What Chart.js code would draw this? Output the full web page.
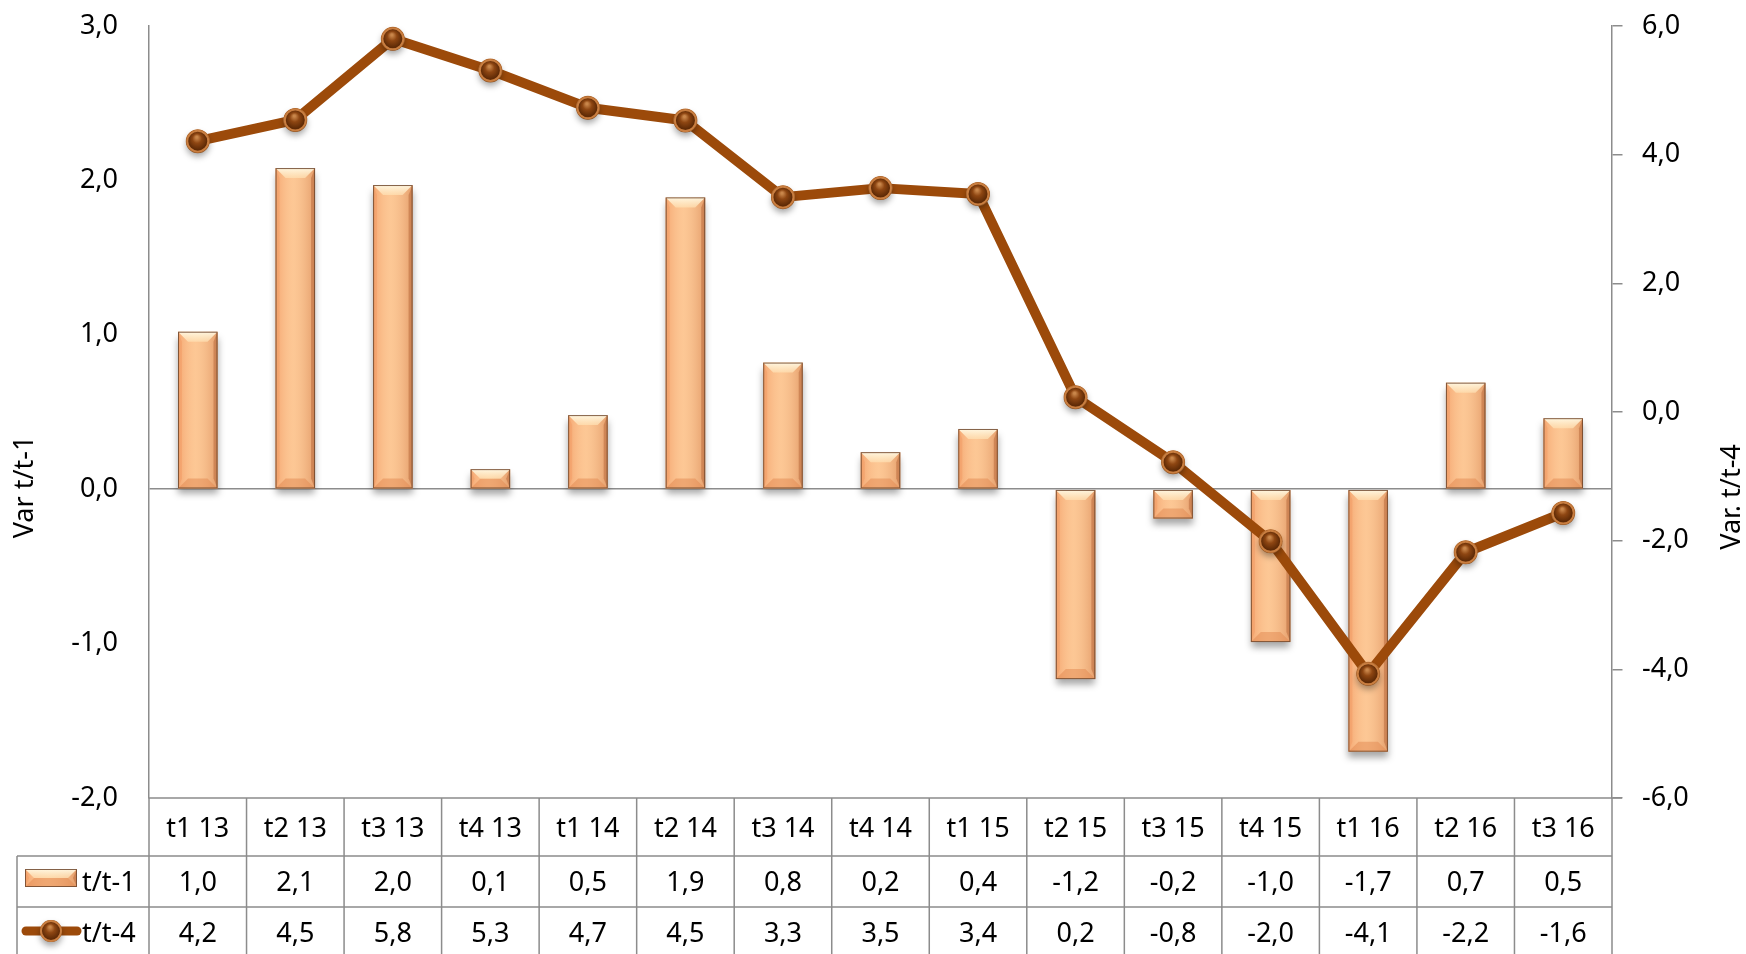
<!DOCTYPE html>
<html><head><meta charset="utf-8">
<script src="https://cdn.jsdelivr.net/npm/chart.js@4.4.1/dist/chart.umd.min.js"></script>
<style>html,body{margin:0;padding:0;background:#fff;}#wrap{width:1746px;height:954px;position:relative;}</style>
</head><body><div id="wrap"><canvas id="c"></canvas></div>
<script>
const categories = ['t1 13','t2 13','t3 13','t4 13','t1 14','t2 14','t3 14','t4 14','t1 15','t2 15','t3 15','t4 15','t1 16','t2 16','t3 16'];
const seriesQoQ = [1.02, 2.08, 1.97, 0.13, 0.48, 1.89, 0.82, 0.24, 0.39, -1.23, -0.19, -0.99, -1.70, 0.69, 0.46];
const seriesYoY = [4.21, 4.54, 5.80, 5.31, 4.73, 4.53, 3.34, 3.48, 3.39, 0.23, -0.78, -2.01, -4.07, -2.18, -1.57];
const seriesNames = ['t/t-1', 't/t-4'];
const axisTitles = ['Var t/t-1', 'Var. t/t-4'];
const leftRange = [-2, 3, 1];
const rightRange = [-6, 6, 2];

const FONT = '"Noto Sans", sans-serif';
const GRID = '#8c8c8c';
const LINE = '#9C4A0A';
const fmt = v => v.toFixed(1).replace('.', ',');

function drawBevelBar(ctx, left, right, top, bottom) {
  const w = right - left, h = bottom - top;
  const b = Math.min(10, h / 2, w / 2);
  const g = ctx.createLinearGradient(left, 0, right, 0);
  g.addColorStop(0, 'rgba(238,140,85,0.5)');
  g.addColorStop(0.45, 'rgba(255,220,175,0.2)');
  g.addColorStop(1, 'rgba(205,120,70,0.5)');
  ctx.fillStyle = g;
  ctx.fillRect(left, top, w, h);
  const gt = ctx.createLinearGradient(0, top, 0, top + b);
  gt.addColorStop(0, 'rgba(255,250,230,0.95)');
  gt.addColorStop(1, 'rgba(255,225,180,0.7)');
  ctx.fillStyle = gt;
  ctx.beginPath(); ctx.moveTo(left, top); ctx.lineTo(right, top); ctx.lineTo(right - b, top + b); ctx.lineTo(left + b, top + b); ctx.closePath(); ctx.fill();
  ctx.fillStyle = 'rgba(225,135,80,0.5)';
  ctx.beginPath(); ctx.moveTo(left, bottom); ctx.lineTo(right, bottom); ctx.lineTo(right - b, bottom - b); ctx.lineTo(left + b, bottom - b); ctx.closePath(); ctx.fill();
  const s = Math.min(4, b);
  ctx.fillStyle = 'rgba(240,150,95,0.4)';
  ctx.beginPath(); ctx.moveTo(left, top); ctx.lineTo(left + s, top + b); ctx.lineTo(left + s, bottom - b); ctx.lineTo(left, bottom); ctx.closePath(); ctx.fill();
  ctx.fillStyle = 'rgba(175,95,50,0.45)';
  ctx.beginPath(); ctx.moveTo(right, top); ctx.lineTo(right - s, top + b); ctx.lineTo(right - s, bottom - b); ctx.lineTo(right, bottom); ctx.closePath(); ctx.fill();
  ctx.strokeStyle = 'rgba(110,70,45,0.85)';
  ctx.lineWidth = 1;
  ctx.strokeRect(left + 0.5, top + 0.5, w - 1, h - 1);
}

function drawBall(ctx, x, y, r) {
  ctx.save();
  ctx.shadowColor = 'rgba(0,0,0,0.35)';
  ctx.shadowBlur = 6;
  ctx.shadowOffsetY = 4;
  const g = ctx.createRadialGradient(x - 1, y - 4, 1, x, y, r);
  g.addColorStop(0, '#C9864A');
  g.addColorStop(0.35, '#8E4612');
  g.addColorStop(0.8, '#5E2A06');
  g.addColorStop(1, '#7E3E0C');
  ctx.fillStyle = g;
  ctx.beginPath(); ctx.arc(x, y, r, 0, Math.PI * 2); ctx.fill();
  ctx.restore();
  ctx.save();
  ctx.strokeStyle = '#C97E40';
  ctx.lineWidth = 2;
  ctx.beginPath(); ctx.arc(x, y, r - 1, 0, Math.PI * 2); ctx.stroke();
  ctx.restore();
}

const effectsPlugin = {
  id: 'effects',
  beforeDatasetDraw(chart, args) {
    if (args.index === 0) {
      const ctx = chart.ctx;
      ctx.save();
      ctx.shadowColor = 'rgba(0,0,0,0.35)';
      ctx.shadowBlur = 7;
      ctx.shadowOffsetY = 6;
    }
  },
  afterDatasetDraw(chart, args) {
    const ctx = chart.ctx;
    if (args.index === 0) {
      ctx.restore();
      args.meta.data.forEach(el => {
        const p = el.getProps(['x', 'y', 'base', 'width'], true);
        drawBevelBar(ctx, p.x - p.width / 2, p.x + p.width / 2, Math.min(p.y, p.base), Math.max(p.y, p.base));
      });
    } else if (args.index === 1) {
      args.meta.data.forEach(el => {
        const p = el.getProps(['x', 'y'], true);
        drawBall(ctx, p.x, p.y, 11.5);
      });
    }
  }
};

const tablePlugin = {
  id: 'table',
  afterDraw(chart) {
    const { ctx, chartArea: ca, scales: { x } } = chart;
    const top = ca.bottom, r1 = top + 58, r2 = top + 109, bot = chart.height;
    const legendLeft = 17;
    const n = categories.length;
    const bounds = [];
    for (let i = 0; i <= n; i++) {
      if (i === 0) bounds.push(ca.left);
      else if (i === n) bounds.push(ca.right);
      else bounds.push((x.getPixelForValue(i - 1) + x.getPixelForValue(i)) / 2);
    }
    ctx.save();
    ctx.strokeStyle = GRID; ctx.lineWidth = 1.5;
    ctx.beginPath();
    ctx.moveTo(ca.left, top); ctx.lineTo(ca.right + 10, top);
    ctx.moveTo(legendLeft, r1); ctx.lineTo(ca.right, r1);
    ctx.moveTo(legendLeft, r2); ctx.lineTo(ca.right, r2);
    bounds.forEach(b => { ctx.moveTo(b, top); ctx.lineTo(b, bot); });
    ctx.moveTo(legendLeft, r1); ctx.lineTo(legendLeft, bot);
    ctx.stroke();
    ctx.fillStyle = '#000';
    ctx.font = '27px ' + FONT;
    ctx.textAlign = 'center';
    ctx.textBaseline = 'middle';
    for (let i = 0; i < n; i++) {
      const px = x.getPixelForValue(i);
      ctx.fillText(fmt(seriesQoQ[i]), px, r1 + 27);
      ctx.fillText(fmt(seriesYoY[i]), px, r2 + 27);
    }
    ctx.textAlign = 'left';
    ctx.fillText(seriesNames[0], 82, r1 + 27);
    ctx.fillText(seriesNames[1], 82, r2 + 27);
    ctx.restore();
    ctx.save();
    ctx.fillStyle = '#FCC28E';
    ctx.fillRect(25, r1 + 13, 52, 18);
    drawBevelBar(ctx, 25, 77, r1 + 13, r1 + 31);
    ctx.restore();
    ctx.save();
    ctx.strokeStyle = LINE; ctx.lineWidth = 9; ctx.lineCap = 'round';
    ctx.beginPath(); ctx.moveTo(26, r2 + 24); ctx.lineTo(77, r2 + 24); ctx.stroke();
    ctx.restore();
    drawBall(ctx, 51, r2 + 24, 11);
    ctx.save();
    ctx.fillStyle = '#000';
    ctx.font = '27px ' + FONT;
    ctx.textAlign = 'center';
    ctx.textBaseline = 'middle';
    ctx.translate(25, 487); ctx.rotate(-Math.PI / 2);
    ctx.fillText(axisTitles[0], 0, 0);
    ctx.restore();
    ctx.save();
    ctx.fillStyle = '#000';
    ctx.font = '27px ' + FONT;
    ctx.textAlign = 'center';
    ctx.textBaseline = 'middle';
    ctx.translate(1732, 497); ctx.rotate(-Math.PI / 2);
    ctx.fillText(axisTitles[1], 0, 0);
    ctx.restore();
  }
};

new Chart(document.getElementById('c'), {
  data: {
    labels: categories,
    datasets: [
      {
        type: 'bar', label: seriesNames[0], data: seriesQoQ, yAxisID: 'y', order: 1,
        backgroundColor: '#FCC28E', borderColor: '#8a6040', borderWidth: 0, borderSkipped: false,
        barPercentage: 0.405, categoryPercentage: 1
      },
      {
        type: 'line', label: seriesNames[1], data: seriesYoY, yAxisID: 'y2', order: 0,
        borderColor: LINE, borderWidth: 10, borderJoinStyle: 'round', tension: 0,
        pointRadius: 11, pointBackgroundColor: '#6B3005', pointBorderColor: '#C97E40', pointBorderWidth: 2
      }
    ]
  },
  options: {
    responsive: true, maintainAspectRatio: false, animation: false,
    layout: { padding: { top: 26, left: 0, right: 0, bottom: 0 } },
    plugins: { legend: { display: false }, tooltip: { enabled: false } },
    scales: {
      x: {
        grid: { display: false }, border: { display: false },
        ticks: { font: { family: FONT, size: 27 }, color: '#000', padding: 7, maxRotation: 0, autoSkip: false },
        afterFit(s) { s.height = 156; }
      },
      y: {
        position: 'left', min: leftRange[0], max: leftRange[1],
        ticks: { stepSize: leftRange[2], font: { family: FONT, size: 27 }, color: '#000', padding: 0, callback: v => fmt(v) },
        grid: { drawTicks: true, tickLength: 31, tickColor: 'rgba(0,0,0,0)', lineWidth: 1.5, color: c => (c.tick && c.tick.value === 0) ? GRID : 'rgba(0,0,0,0)' },
        border: { display: true, color: GRID, width: 1.5 },
        afterFit(s) { s.width = 149; }
      },
      y2: {
        position: 'right', min: rightRange[0], max: rightRange[1],
        ticks: { stepSize: rightRange[2], font: { family: FONT, size: 27 }, color: '#000', padding: 0, callback: v => fmt(v) },
        grid: { drawOnChartArea: false, drawTicks: true, tickLength: 30, tickBorderDash: [10, 200], color: GRID, lineWidth: 1.5 },
        border: { display: true, color: GRID, width: 1.5 },
        afterFit(s) { s.width = 134; }
      }
    }
  },
  plugins: [effectsPlugin, tablePlugin]
});
</script>
</body></html>
